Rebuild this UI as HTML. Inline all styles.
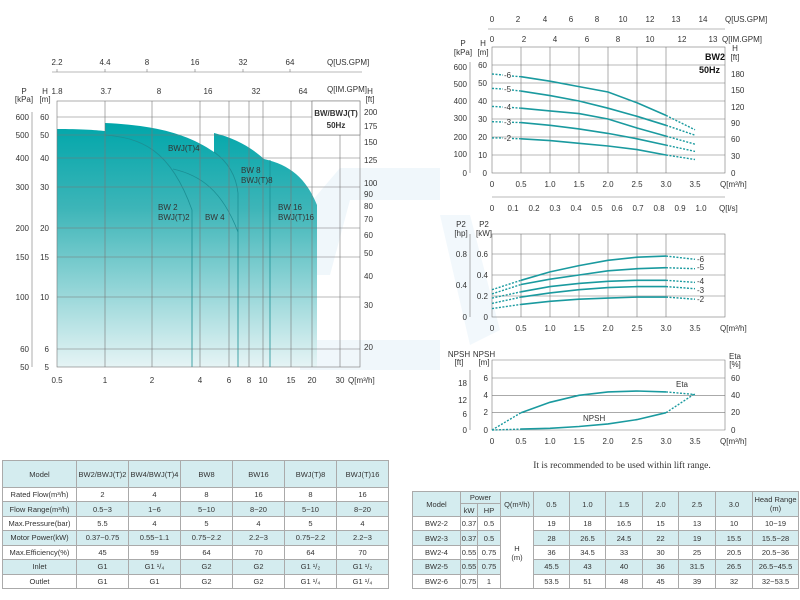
<!DOCTYPE html>
<html><head><meta charset="utf-8"><style>
body{margin:0;background:#fff;width:800px;height:600px;overflow:hidden;font-family:"Liberation Sans",sans-serif}
svg text{font-family:"Liberation Sans",sans-serif;font-size:8px;fill:#333}
table{position:absolute;border-collapse:collapse;table-layout:fixed;font-family:"Liberation Sans",sans-serif;font-size:7.5px;color:#333;text-align:center}
td{border:1px solid #aaa;padding:0;overflow:hidden;white-space:nowrap}
.b td{background:#d4ecef}
</style></head><body>
<svg width="800" height="600" style="position:absolute;left:0;top:0">
<defs><linearGradient id="g" x1="0" y1="0" x2="0" y2="1"><stop offset="0" stop-color="#00a6aa"/><stop offset="0.35" stop-color="#3db5b8"/><stop offset="1" stop-color="#e6f4f5"/></linearGradient></defs>
<!-- watermark -->
<g fill="#e6f1f9"><path d="M300 215 L340 168 L440 168 L440 200 L350 200 L330 275 L300 275Z" opacity="0.6"/><rect x="300" y="340" width="140" height="30" opacity="0.6"/><path d="M440 215 L470 215 L500 330 L470 345Z" opacity="0.5"/></g>
<!-- LEFT CHART -->
<path d="M57 129 C80 129 95 130 105 131 L105 123 C150 125 185 132 214 152 L214 133 C235 138 252 148 264 159 C290 165 306 178 317 205 L317 367 L57 367Z" fill="url(#g)"/>
<g stroke="#1c8f94" stroke-width="0.8" fill="none"><path d="M105 135 C140 138 170 148 192 210 L192 367"/><path d="M173 169 C200 175 222 190 238 232"/><path d="M214 152 C228 162 236 175 238 193 L238 367"/><path d="M270 160 L270 367"/></g>
<g stroke="#777" stroke-width="0.6" fill="none">
<rect x="57" y="101" width="303" height="266"/>
<path d="M105 101V367M152 101V367M200 101V367M229 101V367M249 101V367M263 101V367M291 101V367M312 101V367M340 101V367"/>
<path d="M57 117H312M57 135H360M57 158H360M57 187H360M57 228H360M57 257H360M57 297H360M57 349H360"/>
<path d="M52 72H362M57 72v-3M105 72v-3M147 72v-3M195 72v-3M243 72v-3M290 72v-3M32 112V367"/>
</g>
<rect x="312" y="101" width="48" height="34" fill="#fff" stroke="#777" stroke-width="0.6"/>
<text x="336" y="116" text-anchor="middle" font-weight="bold" style="font-size:8px">BW/BWJ(T)</text><text x="336" y="128" text-anchor="middle" font-weight="bold" style="font-size:8px">50Hz</text>
<g text-anchor="middle"><text x="57" y="65">2.2</text><text x="105" y="65">4.4</text><text x="147" y="65">8</text><text x="195" y="65">16</text><text x="243" y="65">32</text><text x="290" y="65">64</text>
<text x="57" y="94">1.8</text><text x="106" y="94">3.7</text><text x="159" y="94">8</text><text x="208" y="94">16</text><text x="256" y="94">32</text><text x="303" y="94">64</text>
<text x="57" y="383">0.5</text><text x="105" y="383">1</text><text x="152" y="383">2</text><text x="200" y="383">4</text><text x="229" y="383">6</text><text x="249" y="383">8</text><text x="263" y="383">10</text><text x="291" y="383">15</text><text x="312" y="383">20</text><text x="340" y="383">30</text>
<text x="24" y="94">P</text><text x="24" y="102">[kPa]</text><text x="45" y="94">H</text><text x="45" y="102">[m]</text><text x="370" y="94">H</text><text x="370" y="102">[ft]</text></g>
<text x="327" y="65">Q[US.GPM]</text><text x="327" y="92">Q[IM.GPM]</text><text x="348" y="383">Q[m³/h]</text>
<g text-anchor="end"><text x="29" y="120">600</text><text x="29" y="138">500</text><text x="29" y="161">400</text><text x="29" y="190">300</text><text x="29" y="231">200</text><text x="29" y="260">150</text><text x="29" y="300">100</text><text x="29" y="352">60</text><text x="29" y="370">50</text>
<text x="49" y="120">60</text><text x="49" y="138">50</text><text x="49" y="161">40</text><text x="49" y="190">30</text><text x="49" y="231">20</text><text x="49" y="260">15</text><text x="49" y="300">10</text><text x="49" y="352">6</text><text x="49" y="370">5</text></g>
<g><text x="364" y="115">200</text><text x="364" y="129">175</text><text x="364" y="145">150</text><text x="364" y="163">125</text><text x="364" y="186">100</text><text x="364" y="197">90</text><text x="364" y="209">80</text><text x="364" y="222">70</text><text x="364" y="238">60</text><text x="364" y="256">50</text><text x="364" y="279">40</text><text x="364" y="308">30</text><text x="364" y="350">20</text></g>
<g style="fill:#1a5a66"><text x="168" y="151">BWJ(T)4</text><text x="241" y="173">BW 8</text><text x="241" y="183">BWJ(T)8</text><text x="158" y="210">BW 2</text><text x="158" y="220">BWJ(T)2</text><text x="205" y="220">BW 4</text><text x="278" y="210">BW 16</text><text x="278" y="220">BWJ(T)16</text></g>

<!-- RIGHT TOP CHART -->
<g stroke="#777" stroke-width="0.6" fill="none">
<rect x="492" y="47" width="233" height="126"/>
<path d="M521 47V173M550 47V173M579 47V173M608 47V173M637 47V173M666 47V173"/>
<path d="M492 65H725M492 83H725M492 101H725M492 119H725M492 137H725M492 155H725"/>
<path d="M488 29H725M492 197H725M470 62V173M733 173"/>
</g>
<g text-anchor="middle"><text x="492" y="22">0</text><text x="518" y="22">2</text><text x="545" y="22">4</text><text x="571" y="22">6</text><text x="597" y="22">8</text><text x="623" y="22">10</text><text x="650" y="22">12</text><text x="676" y="22">13</text><text x="703" y="22">14</text>
<text x="492" y="42">0</text><text x="524" y="42">2</text><text x="555" y="42">4</text><text x="587" y="42">6</text><text x="618" y="42">8</text><text x="650" y="42">10</text><text x="682" y="42">12</text><text x="713" y="42">13</text>
<text x="492" y="187">0</text><text x="521" y="187">0.5</text><text x="550" y="187">1.0</text><text x="579" y="187">1.5</text><text x="608" y="187">2.0</text><text x="637" y="187">2.5</text><text x="666" y="187">3.0</text><text x="695" y="187">3.5</text>
<text x="492" y="211">0</text><text x="513" y="211">0.1</text><text x="534" y="211">0.2</text><text x="555" y="211">0.3</text><text x="576" y="211">0.4</text><text x="597" y="211">0.5</text><text x="617" y="211">0.6</text><text x="638" y="211">0.7</text><text x="659" y="211">0.8</text><text x="680" y="211">0.9</text><text x="701" y="211">1.0</text>
<text x="463" y="46">P</text><text x="463" y="55">[kPa]</text><text x="483" y="46">H</text><text x="483" y="55">[m]</text><text x="735" y="51">H</text><text x="735" y="60">[ft]</text></g>
<text x="725" y="22">Q[US.GPM]</text><text x="722" y="42">Q[IM.GPM]</text><text x="720" y="187">Q[m³/h]</text><text x="719" y="211">Q[l/s]</text>
<text x="705" y="60" font-weight="bold" style="font-size:9px;fill:#111">BW2</text><text x="699" y="73" font-weight="bold" style="font-size:9px;fill:#111">50Hz</text>
<g text-anchor="end"><text x="467" y="70">600</text><text x="467" y="87">500</text><text x="467" y="104">400</text><text x="467" y="121">300</text><text x="467" y="140">200</text><text x="467" y="157">100</text><text x="467" y="176">0</text>
<text x="487" y="68">60</text><text x="487" y="86">50</text><text x="487" y="104">40</text><text x="487" y="122">30</text><text x="487" y="140">20</text><text x="487" y="158">10</text><text x="487" y="176">0</text></g>
<g><text x="731" y="77">180</text><text x="731" y="93">150</text><text x="731" y="110">120</text><text x="731" y="126">90</text><text x="731" y="142">60</text><text x="731" y="159">30</text><text x="731" y="176">0</text></g>
<g stroke="#1a9a9f" stroke-width="1.6" fill="none">
<polyline points="521,76.7 550,81.2 579,86.6 608,92 637,102.8 666,115.4"/>
<polyline points="521,91.1 550,95.6 579,101 608,108.2 637,116.3 666,125.3"/>
<polyline points="521,108.2 550,110.9 579,113.6 608,119 637,128 666,136.1"/>
<polyline points="521,122.6 550,125.3 579,128.9 608,133.4 637,138.8 666,145.1"/>
<polyline points="521,138.8 550,140.6 579,143.3 608,146 637,149.6 666,155"/>
</g>
<g stroke="#1a9a9f" stroke-width="1.4" fill="none" stroke-dasharray="2,1.5">
<path d="M492 74L503 75M512 76L521 76.7M666 115.4L695 129.8"/>
<path d="M492 88.4L503 89M512 90L521 91.1M666 125.3L695 135.2"/>
<path d="M492 106.4L503 107M512 107.5L521 108.2M666 136.1L695 144.2"/>
<path d="M492 121.7L503 122M512 122.3L521 122.6M666 145.1L695 151.4"/>
<path d="M492 137.9L503 138M512 138.5L521 138.8M666 155L695 159.5"/>
</g>
<g><text x="504" y="78">-6</text><text x="504" y="92">-5</text><text x="504" y="110">-4</text><text x="504" y="125">-3</text><text x="504" y="141">-2</text></g>

<!-- POWER CHART -->
<g stroke="#777" stroke-width="0.6" fill="none">
<rect x="492" y="234" width="233" height="83"/>
<path d="M521 234V317M550 234V317M579 234V317M608 234V317M637 234V317M666 234V317"/>
<path d="M492 254H725M492 275H725M492 296H725M470 234V317"/>
</g>
<g stroke="#1a9a9f" stroke-width="1.6" fill="none">
<polyline points="521,280.3 550,271.9 579,265.6 608,260.3 637,257.2 666,256.1"/>
<polyline points="521,284.5 550,279.2 579,275 608,270.8 637,268.7 666,267.7"/>
<polyline points="521,291.8 550,286.6 579,283.4 608,281.3 637,280.3 666,280.3"/>
<polyline points="521,297.1 550,292.9 579,289.7 608,287.6 637,286.6 666,286.6"/>
<polyline points="521,304.4 550,301.3 579,299.2 608,298.1 637,297.1 666,297.1"/>
</g>
<g stroke="#1a9a9f" stroke-width="1.4" fill="none" stroke-dasharray="2,1.5">
<path d="M492 289.7L521 280.3M666 256.1L695 259.3"/><path d="M492 293.9L521 284.5M666 267.7L695 268.7"/><path d="M492 298.1L521 291.8M666 280.3L695 282.4"/><path d="M492 303.4L521 297.1M666 286.6L695 288.7"/><path d="M492 308.6L521 304.4M666 297.1L695 299.2"/>
</g>
<g><text x="697" y="262">-6</text><text x="697" y="270">-5</text><text x="697" y="284">-4</text><text x="697" y="293">-3</text><text x="697" y="302">-2</text></g>
<g text-anchor="middle"><text x="492" y="331">0</text><text x="521" y="331">0.5</text><text x="550" y="331">1.0</text><text x="579" y="331">1.5</text><text x="608" y="331">2.0</text><text x="637" y="331">2.5</text><text x="666" y="331">3.0</text><text x="695" y="331">3.5</text>
<text x="461" y="227">P2</text><text x="461" y="236">[hp]</text><text x="484" y="227">P2</text><text x="484" y="236">[kW]</text></g>
<text x="720" y="331">Q[m³/h]</text>
<g text-anchor="end"><text x="467" y="257">0.8</text><text x="467" y="288">0.4</text><text x="467" y="320">0</text><text x="488" y="257">0.6</text><text x="488" y="278">0.4</text><text x="488" y="299">0.2</text><text x="488" y="320">0</text></g>

<!-- NPSH CHART -->
<g stroke="#777" stroke-width="0.6" fill="none">
<path d="M492 360H725V430H492ZM492 378H725M492 395.3H725M492 412.7H725M470 370V430"/>
</g>
<g stroke="#1a9a9f" stroke-width="1.6" fill="none">
<polyline points="521,412.7 550,402.3 579,395.3 608,391.9 637,391 666,391.9"/>
<polyline points="521,429.1 550,428.3 579,426.5 608,423.9 637,419.6 666,412.7"/>
</g>
<g stroke="#1a9a9f" stroke-width="1.4" fill="none" stroke-dasharray="2,1.5">
<path d="M492 430L521 412.7M666 391.9L695 394.5M492 430L521 429.1M666 412.7L695 393.6"/>
</g>
<text x="676" y="387">Eta</text><text x="583" y="421">NPSH</text>
<g text-anchor="middle"><text x="492" y="444">0</text><text x="521" y="444">0.5</text><text x="550" y="444">1.0</text><text x="579" y="444">1.5</text><text x="608" y="444">2.0</text><text x="637" y="444">2.5</text><text x="666" y="444">3.0</text><text x="695" y="444">3.5</text>
<text x="459" y="357">NPSH</text><text x="459" y="365">[ft]</text><text x="484" y="357">NPSH</text><text x="484" y="365">[m]</text><text x="735" y="359">Eta</text><text x="735" y="367">[%]</text></g>
<text x="720" y="444">Q[m³/h]</text>
<g text-anchor="end"><text x="467" y="386">18</text><text x="467" y="403">12</text><text x="467" y="417">6</text><text x="467" y="433">0</text><text x="488" y="381">6</text><text x="488" y="398">4</text><text x="488" y="415">2</text><text x="488" y="433">0</text></g>
<g><text x="731" y="381">60</text><text x="731" y="398">40</text><text x="731" y="415">20</text><text x="731" y="433">0</text></g>
<text x="622" y="468" text-anchor="middle" style="font-family:'Liberation Serif',serif;font-size:9.5px">It is recommended to be used within lift range.</text>
</svg>

<table style="left:2px;top:460px;width:386px;height:129px">
<colgroup><col style="width:74px"><col style="width:52px"><col style="width:52px"><col style="width:52px"><col style="width:52px"><col style="width:52px"><col style="width:52px"></colgroup>
<tr class="b" style="height:27px"><td>Model</td><td>BW2/BWJ(T)2</td><td>BW4/BWJ(T)4</td><td>BW8</td><td>BW16</td><td>BWJ(T)8</td><td>BWJ(T)16</td></tr>
<tr><td>Rated Flow(m³/h)</td><td>2</td><td>4</td><td>8</td><td>16</td><td>8</td><td>16</td></tr>
<tr class="b"><td>Flow Range(m³/h)</td><td>0.5~3</td><td>1~6</td><td>5~10</td><td>8~20</td><td>5~10</td><td>8~20</td></tr>
<tr><td>Max.Pressure(bar)</td><td>5.5</td><td>4</td><td>5</td><td>4</td><td>5</td><td>4</td></tr>
<tr class="b"><td>Motor Power(kW)</td><td>0.37~0.75</td><td>0.55~1.1</td><td>0.75~2.2</td><td>2.2~3</td><td>0.75~2.2</td><td>2.2~3</td></tr>
<tr><td>Max.Efficiency(%)</td><td>45</td><td>59</td><td>64</td><td>70</td><td>64</td><td>70</td></tr>
<tr class="b"><td>Inlet</td><td>G1</td><td>G1 ¹/₄</td><td>G2</td><td>G2</td><td>G1 ¹/₂</td><td>G1 ¹/₂</td></tr>
<tr><td>Outlet</td><td>G1</td><td>G1</td><td>G2</td><td>G2</td><td>G1 ¹/₄</td><td>G1 ¹/₄</td></tr>
</table>

<table style="left:412px;top:491px;width:386px;height:98px">
<colgroup><col style="width:48px"><col style="width:17px"><col style="width:23px"><col style="width:33px"><col style="width:36px"><col style="width:36px"><col style="width:37px"><col style="width:36px"><col style="width:37px"><col style="width:37px"><col style="width:46px"></colgroup>
<tr class="b" style="height:12px"><td rowspan="2">Model</td><td colspan="2">Power</td><td rowspan="2">Q(m³/h)</td><td rowspan="2">0.5</td><td rowspan="2">1.0</td><td rowspan="2">1.5</td><td rowspan="2">2.0</td><td rowspan="2">2.5</td><td rowspan="2">3.0</td><td rowspan="2">Head Range<br>(m)</td></tr>
<tr class="b" style="height:13px"><td>kW</td><td>HP</td></tr>
<tr><td>BW2-2</td><td>0.37</td><td>0.5</td><td rowspan="5" style="background:#fff">H<br>(m)</td><td>19</td><td>18</td><td>16.5</td><td>15</td><td>13</td><td>10</td><td>10~19</td></tr>
<tr class="b"><td>BW2-3</td><td>0.37</td><td>0.5</td><td>28</td><td>26.5</td><td>24.5</td><td>22</td><td>19</td><td>15.5</td><td>15.5~28</td></tr>
<tr><td>BW2-4</td><td>0.55</td><td>0.75</td><td>36</td><td>34.5</td><td>33</td><td>30</td><td>25</td><td>20.5</td><td>20.5~36</td></tr>
<tr class="b"><td>BW2-5</td><td>0.55</td><td>0.75</td><td>45.5</td><td>43</td><td>40</td><td>36</td><td>31.5</td><td>26.5</td><td>26.5~45.5</td></tr>
<tr><td>BW2-6</td><td>0.75</td><td>1</td><td>53.5</td><td>51</td><td>48</td><td>45</td><td>39</td><td>32</td><td>32~53.5</td></tr>
</table>
</body></html>
